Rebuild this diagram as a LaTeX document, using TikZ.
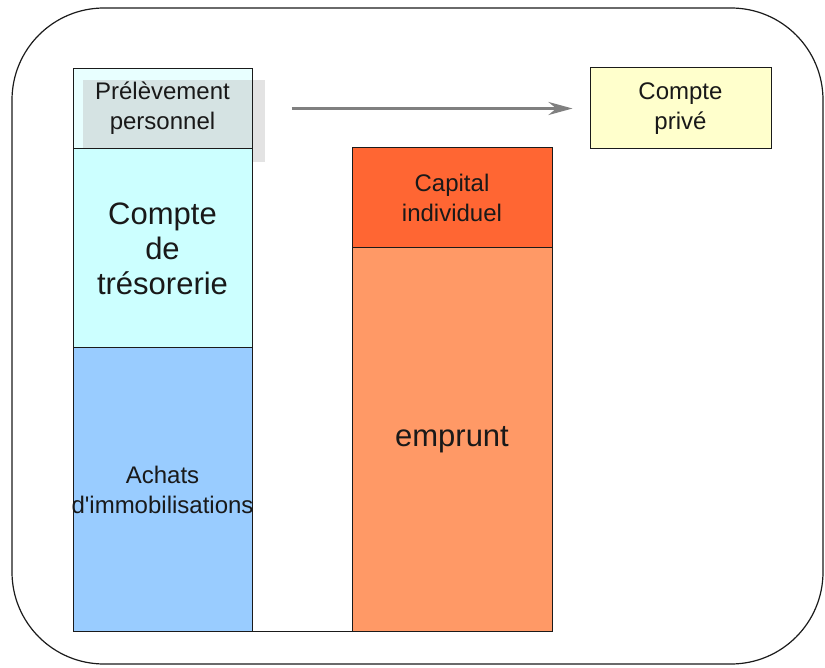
\documentclass[tikz,border=0pt]{standalone}
\usepackage{fontspec}
\setmainfont{Liberation Sans}
\usetikzlibrary{arrows.meta}
\definecolor{prelfill}{HTML}{E8FFFF}
\definecolor{tresofill}{HTML}{CCFFFF}
\definecolor{achatfill}{HTML}{99CCFF}
\definecolor{capfill}{HTML}{FF6633}
\definecolor{empfill}{HTML}{FF9966}
\definecolor{privfill}{HTML}{FFFFCC}
\definecolor{arrowgray}{HTML}{808080}
\definecolor{shadowgray}{HTML}{B9B9B9}
\definecolor{edge}{HTML}{1A1A1A}
\pgfdeclarelayer{background}
\pgfdeclarelayer{front}
\pgfsetlayers{background,main,front}
\hbadness=10000 \hfuzz=100pt
\tikzset{
  blk/.style={draw=edge, line width=1pt, inner sep=0pt, align=center, text=black!90},
  small/.style={font=\fontsize{24}{30}\selectfont},
  big/.style={font=\fontsize{31}{35}\selectfont},
  flow/.style={draw=arrowgray, line width=3pt, -{Stealth[length=24pt, width=13pt]}},
}
\begin{document}
\begin{tikzpicture}[x=1pt, y=-1pt]
\useasboundingbox (0,0) rectangle (825,668);
\draw[edge, line width=1.2pt, rounded corners=92pt] (12,8) rectangle (823,664);
% left column
\begin{pgfonlayer}{front}
\node[blk, small, minimum width=179pt, minimum height=80pt] (prel) at (162.5,108.5) {Prélèvement\\personnel};
\end{pgfonlayer}
\begin{pgfonlayer}{background}
\fill[prelfill] (prel.north west) rectangle (prel.south east);
\end{pgfonlayer}
\fill[shadowgray, opacity=0.4] (83,80) rectangle (265,162);
\node[blk, big, fill=tresofill, minimum width=179pt, minimum height=200pt] (treso) at (162.5,248.5) {Compte\\de\\trésorerie};
\node[blk, small, fill=achatfill, text width=179pt, minimum height=283pt] (achat) at (162.5,489.5) {Achats\\\hspace*{-20pt}d\textquotesingle immobilisations\hspace*{-20pt}};
% right column
\node[blk, small, fill=capfill, minimum width=200pt, minimum height=100pt] (cap) at (452,198) {Capital\\individuel};
\node[blk, big, fill=empfill, minimum width=200pt, minimum height=383pt] (emp) at (452,439.5) {emprunt};
% private account
\node[blk, small, fill=privfill, minimum width=181pt, minimum height=81pt] (priv) at (680.5,108.5) {Compte\\privé};
% connectors
\draw[edge, line width=1pt] (achat.south east) -- (emp.south west);
\draw[flow, shorten <=39pt, shorten >=17pt] (prel.east) -- (priv.west);
\end{tikzpicture}
\end{document}
